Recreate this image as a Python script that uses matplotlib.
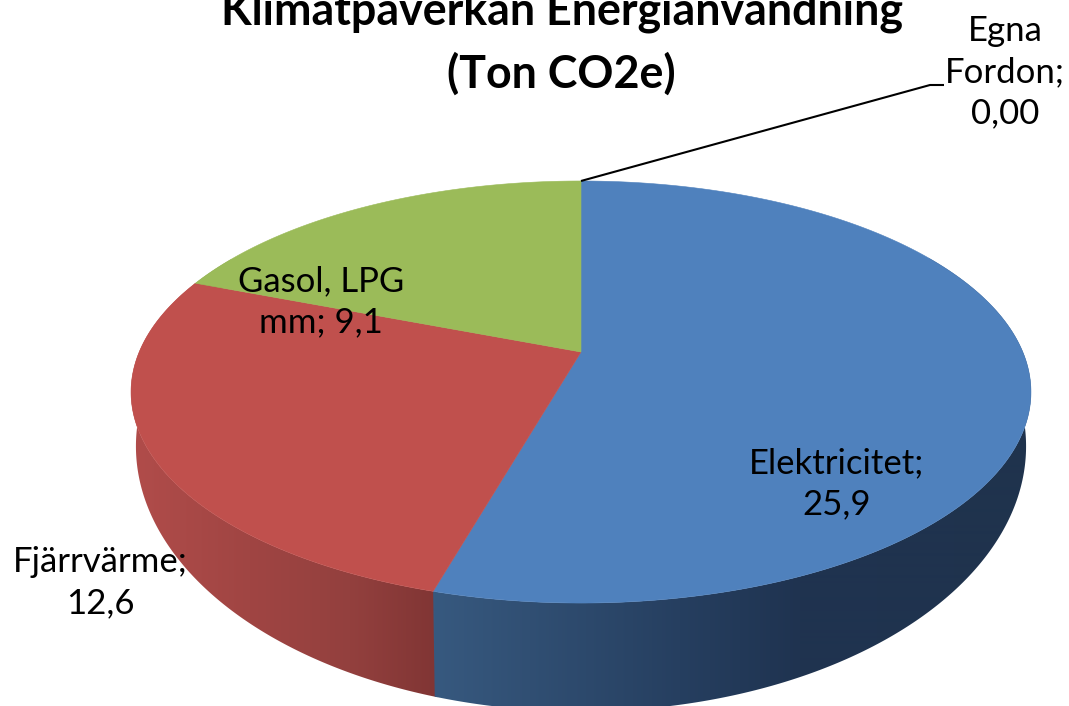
import numpy as np
import matplotlib
matplotlib.use("Agg")
import matplotlib.pyplot as plt
from matplotlib.patches import Polygon

plt.rcParams['font.family'] = ['Lato', 'DejaVu Sans']

names = ["Elektricitet", "Fjärrvärme", "Gasol, LPG mm", "Egna Fordon"]
values = [25.9, 12.6, 9.1, 0.00]
labels = ["Elektricitet;\n25,9", "Fjärrvärme;\n12,6", "Gasol, LPG\nmm; 9,1", "Egna\nFordon;\n0,00"]
title = "Klimatpåverkan Energianvändning\n(Ton CO2e)"

top_colors = ["#4F81BD", "#C0504D", "#9BBB59", "#8064A2"]
# side shading: x position in the picture -> colour, per slice
side_x = [[435, 680, 800, 1030], [137, 250, 350, 438], [137, 200, 300, 400], [500, 600, 700, 800]]
side_cols = [["#37597f", "#263f60", "#1f3350", "#1f334d"],
             ["#b04c4a", "#a04543", "#93403e", "#803534"],
             ["#7a9445", "#7a9445", "#7a9445", "#7a9445"],
             ["#5f4a7a", "#5f4a7a", "#5f4a7a", "#5f4a7a"]]
label_pos = [(837, 484), (100, 583), (321, 302), (1005, 72)]

C = 0.1896  # perspective of the disc
CX = 581


def rim(theta, apex, b, k):
    # theta in degrees, clockwise from the top of the pie
    t = np.radians(theta)
    u, v = np.sin(t), np.cos(t)
    w = 1 + C*v
    return CX + k*u/w, (apex + b*v)/w


def top_rim(theta):
    return rim(theta, 352, -136.7, 441.8)


def bottom_rim(theta):
    return rim(theta, 396, -180.5, 437)


def gradient(xs, cols):
    rgb = np.array([matplotlib.colors.to_rgb(c) for c in cols])
    grid = np.arange(0, 1069)
    return np.dstack([np.interp(grid, xs, rgb[:, i]) for i in range(3)])


fig = plt.figure(figsize=(10.69, 7.06), dpi=100)
ax = fig.add_axes([0, 0, 1, 1])

edges = np.concatenate([[0], np.cumsum(values)]) / np.sum(values) * 360

# sides first, the top goes over them. drawn last to first so no seam shows
for i in range(len(values) - 1, -1, -1):
    a0, a1 = max(edges[i], 60), min(edges[i+1], 300)
    if a1 <= a0:
        continue
    th = np.linspace(a0 - 0.3, a1, 300)
    xt, yt = top_rim(th)
    xb, yb = bottom_rim(th)
    side = Polygon(np.c_[np.r_[xt, xb[::-1]], np.r_[yt, yb[::-1]]], closed=True, transform=ax.transData)
    im = ax.imshow(gradient(side_x[i], side_cols[i]), extent=[0, 1069, 706, 0], aspect="auto", interpolation="bilinear")
    im.set_clip_path(side)

for i in range(len(values)):
    if values[i] == 0:
        continue
    th = np.linspace(edges[i], edges[i+1], 300)
    xt, yt = top_rim(th)
    ax.fill(np.r_[CX, xt], np.r_[352, yt], color=top_colors[i], lw=0.4)

# leader line of the empty slice
x0, y0 = top_rim(edges[-1])
ax.plot([x0, 930, 944], [y0, 85, 85], color="black", lw=1.5, solid_capstyle="butt")

for lab, (x, y) in zip(labels, label_pos):
    ax.text(x, y, lab, ha="center", va="center", fontsize=25, color="black", linespacing=1.35)

ax.text(562, 26, title.split("\n")[0], ha="center", va="baseline", fontsize=32.2, fontweight="bold")
ax.text(561, 88, title.split("\n")[1], ha="center", va="baseline", fontsize=32.2, fontweight="bold")

ax.set_xlim(0, 1069)
ax.set_ylim(706, 0)
ax.axis("off")

fig.savefig("out.png", dpi=100)
